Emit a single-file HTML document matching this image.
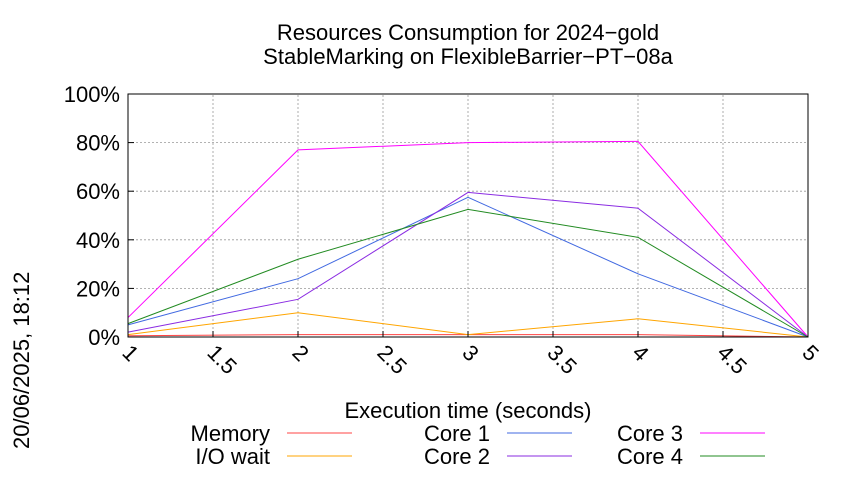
<!DOCTYPE html>
<html><head><meta charset="utf-8"><style>
body{margin:0;background:#fff;width:850px;height:475px;overflow:hidden}
text{font-family:"Liberation Sans",sans-serif;fill:#000}
</style></head><body>
<svg id="chart" width="850" height="475" viewBox="0 0 850 475">
<text x="468" y="40" font-size="22" text-anchor="middle">Resources Consumption for 2024−gold</text>
<text x="468" y="64" font-size="22" text-anchor="middle">StableMarking on FlexibleBarrier−PT−08a</text>
<text transform="translate(29,449) rotate(-90)" font-size="22">20/06/2025, 18:12</text>
<text x="468" y="418" font-size="22" text-anchor="middle">Execution time (seconds)</text>
<g id="grid"></g><g id="series"></g><g id="axes"></g><g id="legend"></g>
</svg>
<script>
const xs=[1,2,3,4,5];
const memory=[0.5,1,1,1,0];
const ioWait=[1,10,1,7.5,0];
const core1=[5,24,57.5,26,0];
const core2=[2,15.5,59.5,53,0];
const core3=[8,77,80,80.5,0];
const core4=[5.5,32,52.5,41,0];
const xTicks=[1,1.5,2,2.5,3,3.5,4,4.5,5];
const yTicks=[0,20,40,60,80,100];
const X0=128,X1=808,Y0=337,Y1=94;
const sx=v=>X0+(v-1)/4*(X1-X0);
const sy=v=>Y0-v/100*(Y0-Y1);
const NS="http://www.w3.org/2000/svg";
function mk(tag,attrs,parent){const e=document.createElementNS(NS,tag);for(const k in attrs)e.setAttribute(k,attrs[k]);document.getElementById(parent).appendChild(e);return e;}
yTicks.forEach(t=>{
 const l=mk('line',{x1:X0,x2:X1,y1:sy(t),y2:sy(t),stroke:'#999','stroke-dasharray':'2,2','stroke-width':0.8},'grid');
 
 
 const tm=mk('line',{x1:X0,x2:X0+6,y1:sy(t),y2:sy(t),stroke:'#000'},'axes');
 
 
 const tk=mk('text',{x:X0-8,y:sy(t)+8,'font-size':22,'text-anchor':'end'},'axes');
 tk.textContent=t+'%';
 
 
});
xTicks.forEach(t=>{
 const l=mk('line',{x1:sx(t),x2:sx(t),y1:Y0,y2:Y1,stroke:'#999','stroke-dasharray':'2,2','stroke-width':0.8},'grid');
 
 
 const tm=mk('line',{x1:sx(t),x2:sx(t),y1:Y0,y2:Y0-6,stroke:'#000'},'axes');
 
 
 const tk=mk('text',{transform:`translate(${sx(t)-7},${Y0+17}) rotate(45)`,'font-size':22},'axes');
 tk.textContent=String(t);
 
 
});
const fr=mk('rect',{x:X0,y:Y1,width:X1-X0,height:Y0-Y1,fill:'none',stroke:'#000','stroke-width':1},'axes');


const series=[['Memory',memory,'#f44'],['I/O wait',ioWait,'#ffa500'],['Core 1',core1,'#4169e1'],['Core 2',core2,'#8a2be2'],['Core 3',core3,'#f0f'],['Core 4',core4,'#228b22']];
series.forEach((s,i)=>{
 const p=mk('polyline',{points:xs.map((x,j)=>sx(x)+','+sy(s[1][j])).join(' '),fill:'none',stroke:s[2],'stroke-width':1},'series');
 
 
 const col=Math.floor(i/2),row=i%2;
 const lx=[270,490,683][col],ly=[441,464][row];
 const t=mk('text',{x:lx,y:ly,'font-size':22,'text-anchor':'end'},'legend');
 t.textContent=s[0];
 
 
 const l=mk('line',{x1:lx+17,x2:lx+82,y1:ly-8,y2:ly-8,stroke:s[2],'stroke-width':1},'legend');
 
 
});
</script>
</body></html>
